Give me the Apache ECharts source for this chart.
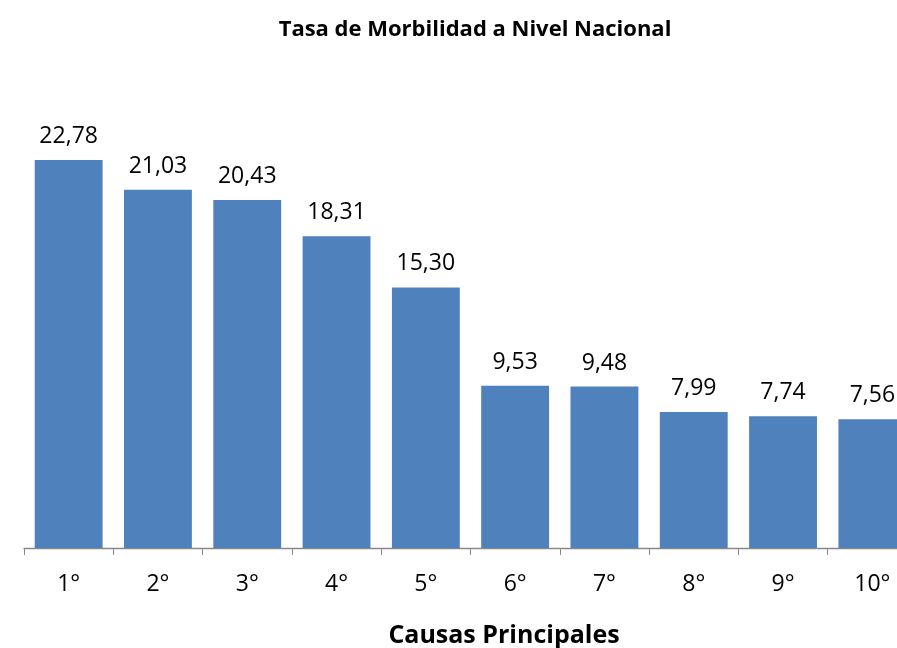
<!DOCTYPE html>
<html><head><meta charset="utf-8">
<script src="https://cdn.jsdelivr.net/npm/echarts@6/dist/echarts.min.js"></script>
<style>html,body{margin:0;padding:0;background:#fff;overflow:hidden;width:897px;height:648px}#c{width:920px;height:648px}</style>
</head><body><div id="c"></div>
<script>
const categories = ['1°','2°','3°','4°','5°','6°','7°','8°','9°','10°'];
const values = [22.78, 21.03, 20.43, 18.31, 15.30, 9.53, 9.48, 7.99, 7.74, 7.56];
const titleText = 'Tasa de Morbilidad a Nivel Nacional';
const xName = 'Causas Principales';
const FONT = 'Open Sans';
const chart = echarts.init(document.getElementById('c'), null, {renderer:'canvas'});
chart.setOption({
  animation:false,
  title:[
    {text:titleText, left:470, top:14, textAlign:'center',
     textStyle:{fontFamily:FONT, fontWeight:'bold', fontSize:22, color:'#000'}},
    {text:xName, left:499, top:618, textAlign:'center',
     textStyle:{fontFamily:FONT, fontWeight:'bold', fontSize:25, color:'#000'}}
  ],
  grid:{left:24, width:893, top:122.2, height:425.8, containLabel:false},
  xAxis:{type:'category', data:categories,
    axisLine:{lineStyle:{color:'#898989', width:1.3}},
    axisTick:{show:true, length:7, lineStyle:{color:'#898989'}},
    axisLabel:{fontFamily:FONT, fontSize:23, color:'#000', margin:25}},
  yAxis:{type:'value', min:0, max:25, show:false, splitLine:{show:false}},
  series:[{type:'bar', data:values, barCategoryGap:'24%',
    itemStyle:{color:'#4F81BD'},
    label:{show:true, position:'top', distance:12, fontFamily:FONT, fontSize:23, color:'#000',
      formatter:p=>p.value.toFixed(2).replace('.',',')}}]
});
</script></body></html>
